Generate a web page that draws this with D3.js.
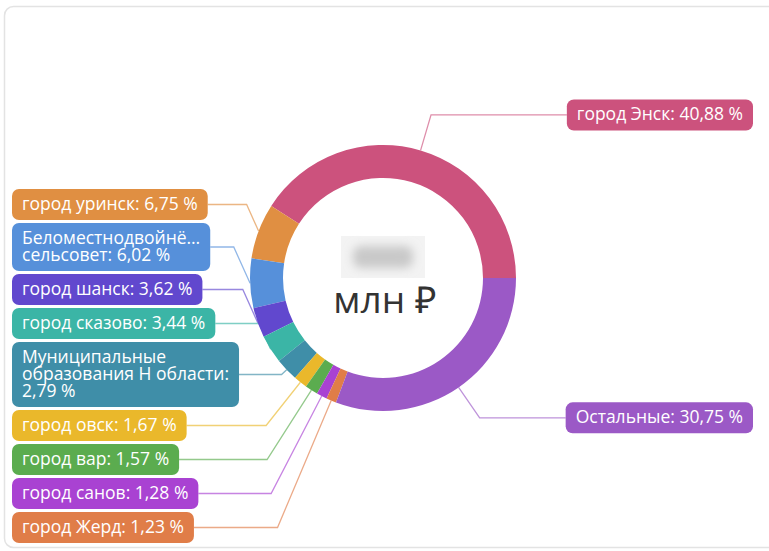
<!DOCTYPE html>
<html>
<head>
<meta charset="utf-8">
<script src="https://cdn.jsdelivr.net/npm/d3@7"></script>
<style>
  body { margin: 0; background: #fff; }
  svg { display: block; font-family: "Open Sans", sans-serif; }
</style>
</head>
<body>
<svg width="769" height="551"></svg>
<script>
// data, in drawing order (counter-clockwise from 3 o'clock)
var names = ['город Энск', 'город уринск', 'Беломестнодвойнё… сельсовет', 'город шанск',
  'город сказово', 'Муниципальные образования Н области', 'город овск', 'город вар',
  'город санов', 'город Жерд', 'Остальные'];
var values = [40.88, 6.75, 6.02, 3.62, 3.44, 2.79, 1.67, 1.57, 1.28, 1.23, 30.75];
var colors = ['#cc527d', '#e08f42', '#5690da', '#6148ce', '#3bb5a6', '#3f8ea8',
  '#eab82b', '#5bac4f', '#a942d2', '#e07d48', '#9b59c6'];
var unitLabel = 'млн ₽';

var svg = d3.select('svg');
var W = 769, H = 551;

// card
svg.append('rect')
  .attr('x', 4.5).attr('y', 6.5)
  .attr('width', W + 20).attr('height', 541)
  .attr('rx', 9)
  .style('fill', '#fff')
  .style('stroke', '#e3e3e3')
  .style('stroke-width', 1.5);

var cx = 383, cy = 278;
var rOuter = 133, rInner = 100;
var labelDist = 170;
var fmt = d3.format('.2f');

var data = names.map(function(n, i) {
  return { name: n, value: values[i], color: colors[i] };
});

var pie = d3.pie()
  .sort(null)
  .value(function(d) { return d.value; })
  .startAngle(Math.PI / 2)
  .endAngle(Math.PI / 2 - 2 * Math.PI);

var arcs = pie(data);
var arc = d3.arc().innerRadius(rInner).outerRadius(rOuter);

var g = svg.append('g');
var lineLayer = g.append('g');
var ringLayer = g.append('g').attr('transform', 'translate(' + cx + ',' + cy + ')');
var labelLayer = g.append('g');

ringLayer.selectAll('path')
  .data(arcs)
  .enter().append('path')
  .attr('d', arc)
  .style('fill', function(d) { return d.data.color; });

// labels: build text, wrap, measure
var fontSize = 17.5, lineH = 17, padX = 10, padY = 7, maxTextW = 215;

var measure = svg.append('text').style('font-size', fontSize + 'px');
function textW(s) { measure.text(s); return measure.node().getComputedTextLength(); }

arcs.forEach(function(a) {
  var mid = (a.startAngle + a.endAngle) / 2;
  a.mid = mid;
  a.side = Math.sin(mid) < 0 ? 'left' : 'right';
  a.px = cx + rOuter * Math.sin(mid);
  a.py = cy - rOuter * Math.cos(mid);
  var txt = a.data.name + ': ' + fmt(a.data.value).replace('.', ',') + ' %';
  var words = txt.split(' '), lines = [], cur = '';
  words.forEach(function(w) {
    var t = cur ? cur + ' ' + w : w;
    if (cur && textW(t) > maxTextW) { lines.push(cur); cur = w; } else cur = t;
  });
  lines.push(cur);
  a.lines = lines;
  a.w = d3.max(lines, textW) + 2 * padX;
  a.h = lines.length * lineH + 2 * padY;
  a.natural = cy - labelDist * Math.cos(mid);
});
measure.remove();

// avoid overlaps on each side
var gap = 3, topLimit = 14, bottomLimit = 543;
['left', 'right'].forEach(function(side) {
  var list = arcs.filter(function(a) { return a.side === side; })
    .sort(function(a, b) { return a.natural - b.natural; });
  var prev = topLimit - gap;
  list.forEach(function(a) {
    a.top = Math.max(a.natural - a.h / 2, prev + gap);
    prev = a.top + a.h;
  });
  var next = bottomLimit + gap;
  for (var i = list.length - 1; i >= 0; i--) {
    var a = list[i];
    if (a.top + a.h > next - gap) a.top = next - gap - a.h;
    next = a.top;
  }
});

arcs.forEach(function(a) {
  a.bx = a.side === 'left' ? 12 : 753 - a.w;
  a.ly = a.top + a.h / 2;
  var edge = a.side === 'left' ? a.bx + a.w : a.bx;
  var dy = a.ly - a.py;
  var c = -Math.cos(a.mid), s = Math.sin(a.mid);
  var kx = null;
  if (Math.abs(c) > 0.05 && dy * c > 0) {
    kx = a.px + s * dy / c;
    if (a.side === 'left' ? kx < edge + 30 : kx > edge - 30) kx = null;
  }
  if (kx === null) kx = a.px + (a.side === 'left' ? -1 : 1) * 0.45 * Math.abs(dy);
  a.path = 'M' + edge + ',' + a.ly + 'L' + kx + ',' + a.ly + 'L' + a.px + ',' + a.py;
});

lineLayer.selectAll('path')
  .data(arcs)
  .enter().append('path')
  .attr('d', function(d) { return d.path; })
  .style('fill', 'none')
  .style('stroke', function(d) { return d.data.color; })
  .style('stroke-opacity', 0.65)
  .style('stroke-width', 1.3);

var lab = labelLayer.selectAll('g')
  .data(arcs)
  .enter().append('g')
  .attr('transform', function(d) { return 'translate(' + d.bx + ',' + d.top + ')'; });

lab.append('rect')
  .attr('width', function(d) { return d.w; })
  .attr('height', function(d) { return d.h; })
  .attr('rx', 7)
  .style('fill', function(d) { return d.data.color; });

lab.append('text')
  .style('font-size', fontSize + 'px')
  .style('fill', '#fff')
  .selectAll('tspan')
  .data(function(d) { return d.lines; })
  .enter().append('tspan')
  .attr('x', padX)
  .attr('y', function(d, i) { return padY + i * lineH + 14; })
  .text(function(d) { return d; });

// centre: hidden total (blurred) and unit
var defs = svg.append('defs');
defs.append('filter').attr('id', 'blur')
  .attr('x', '-50%').attr('y', '-50%').attr('width', '200%').attr('height', '200%')
  .append('feGaussianBlur').attr('stdDeviation', 5);

svg.append('rect')
  .attr('x', cx - 42).attr('y', 236)
  .attr('width', 84).attr('height', 42)
  .style('fill', '#f3f3f3');
svg.append('rect')
  .attr('x', cx - 30).attr('y', 246)
  .attr('width', 60).attr('height', 22)
  .attr('rx', 8)
  .style('fill', '#c9c9c9')
  .attr('filter', 'url(#blur)');

svg.append('text')
  .attr('x', cx + 2)
  .attr('y', 313)
  .attr('text-anchor', 'middle')
  .style('font-size', '37px')
  .style('fill', '#333')
  .text(unitLabel);
</script>
</body>
</html>
